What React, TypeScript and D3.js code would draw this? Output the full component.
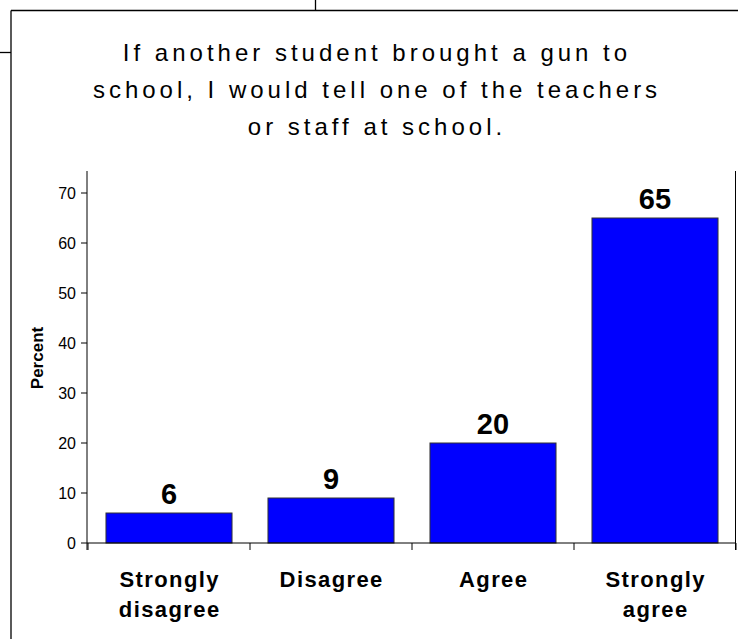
import React from "react";
import * as d3 from "d3";

const categories = ["Strongly disagree", "Disagree", "Agree", "Strongly agree"];
const categoryLines = [["Strongly", "disagree"], ["Disagree"], ["Agree"], ["Strongly", "agree"]];
const values = [6, 9, 20, 65];
const yTicks = [0, 10, 20, 30, 40, 50, 60, 70];
const titleLines = [
  "If another student brought a gun to",
  "school, I would tell one of the teachers",
  "or staff at school.",
];
const yLabel = "Percent";

export default function App() {
  const W = 738;
  const H = 639;
  const x = d3
    .scaleBand<string>()
    .domain(categories)
    .range([88, 736])
    .paddingInner(0.222)
    .paddingOuter(0.111);
  const y = d3.scaleLinear().domain([0, 70]).range([543, 193]);
  const step = x.step();
  const tickXs = categories.map((c) => (x(c) as number) - (step * 0.222) / 2);
  tickXs.push(736);
  const axisTop = 171;
  const font = "Arial, 'Liberation Sans', Helvetica, sans-serif";

  return (
    <svg
      width={W}
      height={H}
      style={{ position: "absolute", left: 0, top: 0, background: "#fff" }}
      fontFamily={font}
    >
      <rect x={0} y={0} width={W} height={H} fill="#fff" />
      {/* frame lines */}
      <line x1={11} y1={10.5} x2={W} y2={10.5} stroke="#000" strokeWidth={1.3} />
      <line x1={315.5} y1={0} x2={315.5} y2={10.5} stroke="#000" strokeWidth={1.3} />
      <line x1={0} y1={52.5} x2={11} y2={52.5} stroke="#000" strokeWidth={1.3} />
      <line x1={11} y1={10.5} x2={11} y2={H} stroke="#000" strokeWidth={1.3} />

      {/* title */}
      {titleLines.map((t, i) => (
        <text
          key={i}
          x={377}
          y={61 + i * 37}
          textAnchor="middle"
          fontSize={24}
          letterSpacing={4}
          fill="#000"
        >
          {t}
        </text>
      ))}

      {/* bars */}
      {categories.map((c, i) => (
        <rect
          key={c}
          x={x(c)}
          y={y(values[i])}
          width={x.bandwidth()}
          height={y(0) - y(values[i])}
          fill="#0000FF"
          stroke="#333"
          strokeWidth={1}
        />
      ))}

      {/* value labels */}
      {categories.map((c, i) => (
        <text
          key={c}
          x={(x(c) as number) + x.bandwidth() / 2}
          y={y(values[i]) - 9}
          textAnchor="middle"
          fontSize={29}
          fontWeight="bold"
          fill="#000"
        >
          {values[i]}
        </text>
      ))}

      {/* y axis */}
      <line x1={87} y1={axisTop} x2={87} y2={550} stroke="#000" strokeWidth={1} />
      {yTicks.map((t) => (
        <g key={t}>
          <line x1={81} y1={y(t)} x2={87} y2={y(t)} stroke="#000" strokeWidth={1} />
          <text x={76} y={y(t)} dy="0.36em" textAnchor="end" fontSize={16} fill="#000">
            {t}
          </text>
        </g>
      ))}
      <text
        transform={`translate(43,358) rotate(-90)`}
        textAnchor="middle"
        fontSize={17}
        fontWeight="bold"
        fill="#000"
      >
        {yLabel}
      </text>

      {/* x axis */}
      <line x1={87} y1={y(0)} x2={736} y2={y(0)} stroke="#000" strokeWidth={1} />
      {tickXs.map((tx, i) => (
        <line key={i} x1={tx} y1={y(0)} x2={tx} y2={550} stroke="#000" strokeWidth={1} />
      ))}
      <line x1={735.5} y1={axisTop} x2={735.5} y2={550} stroke="#000" strokeWidth={1} />
      {categories.map((c, i) => (
        <text
          key={c}
          x={(x(c) as number) + x.bandwidth() / 2}
          y={587}
          textAnchor="middle"
          fontSize={22}
          fontWeight="bold"
          letterSpacing={1.4}
          fill="#000"
        >
          {categoryLines[i].map((l, j) => (
            <tspan key={j} x={(x(c) as number) + x.bandwidth() / 2 + 0.7} dy={j === 0 ? 0 : 30}>
              {l}
            </tspan>
          ))}
        </text>
      ))}
    </svg>
  );
}
